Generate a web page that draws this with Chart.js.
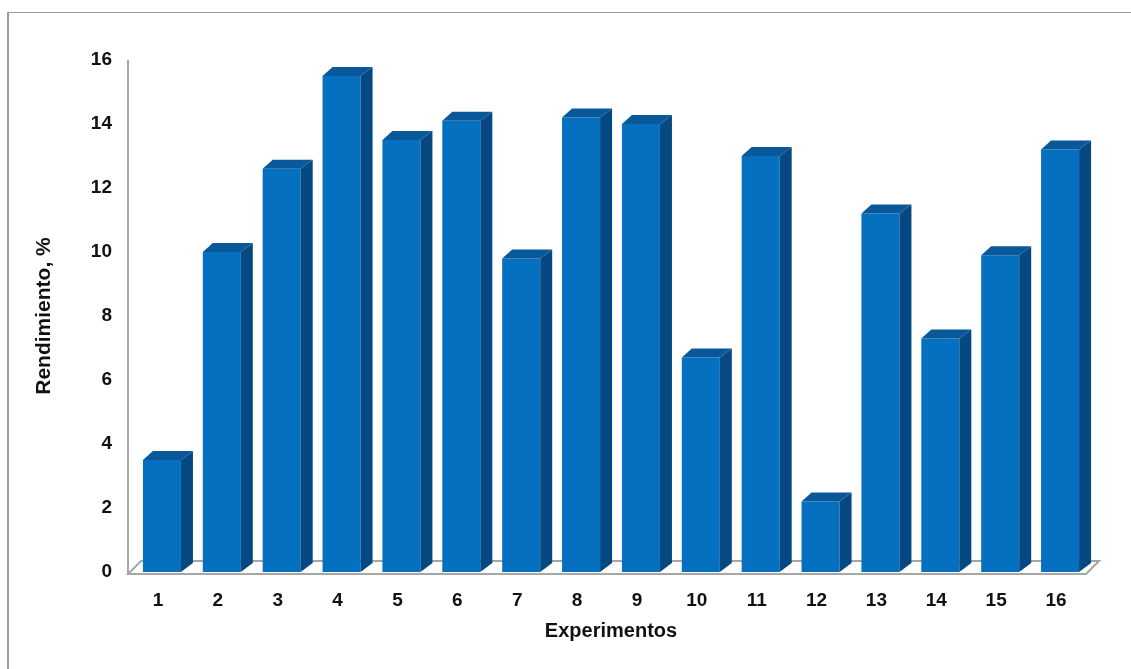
<!DOCTYPE html>
<html>
<head>
<meta charset="utf-8">
<script src="https://cdn.jsdelivr.net/npm/chart.js@4.4.1/dist/chart.umd.min.js"></script>
<style>
  html, body { margin: 0; padding: 0; background: #ffffff; }
  #wrap { position: relative; width: 1131px; height: 669px; }
</style>
</head>
<body>
<div id="wrap"><canvas id="chart"></canvas></div>
<script>
// Rendimiento por experimento
const experimentos = ['1','2','3','4','5','6','7','8','9','10','11','12','13','14','15','16'];
const rendimiento = [3.5, 10.0, 12.6, 15.5, 13.5, 14.1, 9.8, 14.2, 14.0, 6.7, 13.0, 2.2, 11.2, 7.3, 9.9, 13.2];
const yMin = 0;
const yMax = 16;
const yStep = 2;

// bar face colours
const FRONT = '#0670c0';
const TOP = '#09589a';
const SIDE = '#064881';

// depth of the 3D extrusion (pixels)
const DX_L = 10, DX_R = 12, DY = -9;
// floor depth and axis shift
const FLOOR_DX = 13, FLOOR_DY = -13, AXIS_SHIFT = 4;

const frame = {
  id: 'frame',
  beforeDraw(chart) {
    const ctx = chart.ctx;
    ctx.save();
    ctx.strokeStyle = '#9c9c9c';
    ctx.lineWidth = 2;
    ctx.beginPath();
    ctx.moveTo(8, chart.height);
    ctx.lineTo(8, 12);
    ctx.stroke();
    ctx.lineWidth = 1;
    ctx.beginPath();
    ctx.moveTo(7, 12.5);
    ctx.lineTo(chart.width, 12.5);
    ctx.stroke();
    ctx.restore();
  }
};

const floor3d = {
  id: 'floor3d',
  beforeDatasetsDraw(chart) {
    const ctx = chart.ctx;
    const area = chart.chartArea;
    const y0 = chart.scales.y.getPixelForValue(yMin) + 2;
    const l = area.left - AXIS_SHIFT, r = area.right - AXIS_SHIFT;
    ctx.save();
    ctx.fillStyle = '#ffffff';
    ctx.strokeStyle = '#a6a6a6';
    ctx.lineWidth = 2;
    ctx.beginPath();
    ctx.moveTo(l, y0);
    ctx.lineTo(r, y0);
    ctx.lineTo(r + FLOOR_DX, y0 + FLOOR_DY);
    ctx.lineTo(l + FLOOR_DX, y0 + FLOOR_DY);
    ctx.closePath();
    ctx.fill();
    ctx.stroke();
    // value axis line
    ctx.beginPath();
    ctx.moveTo(l, y0);
    ctx.lineTo(l, chart.scales.y.getPixelForValue(yMax));
    ctx.stroke();
    ctx.restore();
  }
};

const bars3d = {
  id: 'bars3d',
  afterDatasetsDraw(chart) {
    const ctx = chart.ctx;
    const meta = chart.getDatasetMeta(0);
    ctx.save();
    meta.data.forEach(bar => {
      const p = bar.getProps(['x', 'y', 'base', 'width'], true);
      const l = p.x - p.width / 2, r = p.x + p.width / 2;
      // side face
      ctx.fillStyle = SIDE;
      ctx.beginPath();
      ctx.moveTo(r, p.y);
      ctx.lineTo(r + DX_R, p.y + DY);
      ctx.lineTo(r + DX_R, p.base + DY);
      ctx.lineTo(r, p.base);
      ctx.closePath();
      ctx.fill();
      // top face
      ctx.fillStyle = TOP;
      ctx.beginPath();
      ctx.moveTo(l, p.y);
      ctx.lineTo(l + DX_L, p.y + DY);
      ctx.lineTo(r + DX_R, p.y + DY);
      ctx.lineTo(r, p.y);
      ctx.closePath();
      ctx.fill();
    });
    ctx.restore();
  }
};

const tickFont = { family: 'Liberation Sans', size: 19, weight: 'bold' };
const xTitleFont = { family: 'Liberation Sans', size: 20, weight: 'bold' };
const yTitleFont = { family: 'Liberation Sans', size: 21, weight: 'bold' };

new Chart(document.getElementById('chart'), {
  type: 'bar',
  data: {
    labels: experimentos,
    datasets: [{
      data: rendimiento,
      backgroundColor: FRONT,
      borderWidth: 0,
      categoryPercentage: 1.0,
      barPercentage: 0.635
    }]
  },
  options: {
    responsive: true,
    maintainAspectRatio: false,
    animation: false,
    layout: { padding: { left: 0, top: 60, right: 41, bottom: 0 } },
    plugins: { legend: { display: false }, tooltip: { enabled: false } },
    scales: {
      x: {
        grid: { display: false, drawTicks: false },
        border: { display: false },
        ticks: { color: '#111111', font: tickFont, padding: 17, labelOffset: -AXIS_SHIFT, maxRotation: 0 },
        title: { display: true, text: 'Experimentos', color: '#111111', font: xTitleFont, padding: { top: 0, bottom: 26 } },
        afterFit(scale) { scale.height = 97; }
      },
      y: {
        min: yMin,
        max: yMax,
        grid: { display: false, drawTicks: false },
        border: { display: false },
        ticks: { stepSize: yStep, color: '#111111', font: tickFont, padding: 20 },
        title: { display: true, text: 'Rendimiento, %', color: '#111111', font: yTitleFont, padding: { top: 32, bottom: 0 } },
        afterFit(scale) { scale.width = 132; }
      }
    }
  },
  plugins: [frame, floor3d, bars3d]
});
</script>
</body>
</html>
